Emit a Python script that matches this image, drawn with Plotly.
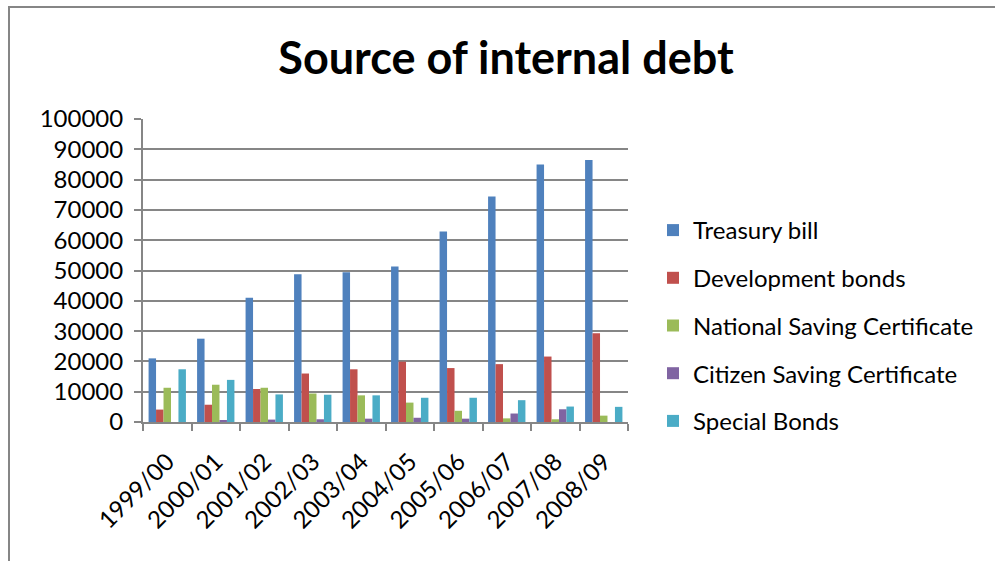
import plotly.graph_objects as go

categories = ["1999/00", "2000/01", "2001/02", "2002/03", "2003/04",
              "2004/05", "2005/06", "2006/07", "2007/08", "2008/09"]
treasury_bill = [21000, 27500, 41000, 48800, 49400, 51300, 62900, 74400, 85000, 86500]
development_bonds = [4100, 5700, 10900, 16000, 17400, 19900, 17800, 19100, 21600, 29300]
national_saving = [11300, 12300, 11300, 9400, 8800, 6400, 3700, 1200, 900, 2100]
citizen_saving = [0, 500, 800, 900, 1100, 1400, 1100, 2800, 4200, 0]
special_bonds = [17400, 13900, 9100, 9000, 8800, 8000, 8000, 7200, 5100, 5000]
y_ticks = [0, 10000, 20000, 30000, 40000, 50000, 60000, 70000, 80000, 90000, 100000]

series = [
    ("Treasury bill", treasury_bill, "#4F81BD"),
    ("Development bonds", development_bonds, "#C0504D"),
    ("National Saving Certificate", national_saving, "#9BBB59"),
    ("Citizen Saving Certificate", citizen_saving, "#8064A2"),
    ("Special Bonds", special_bonds, "#4BACC6"),
]

W, H = 995, 561
L, R, T, B = 143, 628, 119, 422

fig = go.Figure()
for i, (name, vals, col) in enumerate(series):
    fig.add_trace(go.Bar(x=categories, y=vals, name=name, marker_color=col,
                         marker_line_width=0, legendgroup=str(i)))

font = "Lato, 'DejaVu Sans', sans-serif"
grid = "#868686"
fig.update_layout(
    width=W, height=H,
    margin=dict(l=L, r=W - R, t=T, b=H - B, autoexpand=False),
    paper_bgcolor="white", plot_bgcolor="white",
    barmode="group", bargap=0.23, bargroupgap=0,
    font=dict(family=font, color="black", size=24),
    title=dict(text="<b>Source of internal debt</b>", x=(506) / W, xanchor="center",
               y=1 - 58 / H, yanchor="middle", font=dict(size=45, family=font)),
    showlegend=True,
    legend=dict(x=(653 - L) / (R - L), xanchor="left", y=(B - 208) / (B - T), yanchor="top",
                font=dict(size=24, family=font), tracegroupgap=13.5,
                bgcolor="rgba(0,0,0,0)", itemwidth=30),
    xaxis=dict(showgrid=False, showline=True, linecolor=grid, linewidth=2,
               ticks="outside", tickson="boundaries", ticklen=7, tickcolor=grid, tickwidth=2,
               tickangle=-45, ticklabelstandoff=14, tickfont=dict(size=24, family=font)),
    yaxis=dict(range=[0, 100000], tickvals=y_ticks, ticktext=[str(v) for v in y_ticks],
               showgrid=True, gridcolor=grid, gridwidth=2, showline=True, linecolor=grid,
               linewidth=2, ticks="outside", ticklen=7, tickcolor=grid, tickwidth=2,
               ticklabelstandoff=6,
               zeroline=False, tickfont=dict(size=24, family=font)),
)

# outer chart border
fig.add_shape(type="rect", xref="paper", yref="paper",
              x0=(9 - L) / (R - L), x1=(1005 - L) / (R - L),
              y0=(B - 575) / (B - T), y1=(B - 7) / (B - T),
              line=dict(color="#868686", width=2), fillcolor="rgba(0,0,0,0)", layer="below")

fig.write_html("out.html", config={"displayModeBar": False},
               post_script="document.body.style.margin='0';")
